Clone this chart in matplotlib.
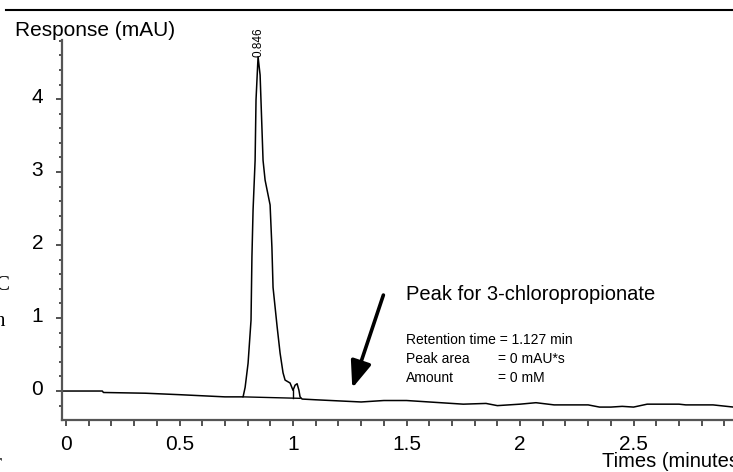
import numpy as np
import matplotlib.pyplot as plt
from matplotlib.lines import Line2D
from matplotlib.ticker import MultipleLocator
from matplotlib.transforms import ScaledTranslation

plt.rcParams['font.family'] = ['Liberation Sans', 'DejaVu Sans']

# chromatogram trace (minutes, mAU)
time = [-0.018, 0.16, 0.165, 0.35, 0.5, 0.7, 0.78,
        0.789, 0.802, 0.815, 0.819, 0.824, 0.833, 0.837, 0.846,
        0.855, 0.868, 0.877, 0.899, 0.907, 0.912, 0.930, 0.943, 0.956,
        0.965, 0.987, 1.0, 1.009, 1.018, 1.026, 1.031, 1.040,
        1.1, 1.3, 1.4, 1.5, 1.6, 1.75, 1.85, 1.9, 2.0, 2.07, 2.15,
        2.3, 2.35, 2.4, 2.45, 2.5, 2.56, 2.7, 2.73, 2.85, 2.94]
response = [0.0, 0.0, -0.02, -0.03, -0.05, -0.08, -0.08,
            0.05, 0.38, 0.97, 1.84, 2.48, 3.16, 3.99, 4.58,
            4.33, 3.16, 2.89, 2.55, 1.97, 1.42, 0.88, 0.52, 0.25,
            0.15, 0.11, 0.01, 0.08, 0.10, 0.01, -0.08, -0.11,
            -0.12, -0.15, -0.13, -0.13, -0.15, -0.18, -0.17, -0.2, -0.18, -0.16, -0.19,
            -0.19, -0.22, -0.22, -0.21, -0.22, -0.18, -0.18, -0.19, -0.19, -0.22]

# integration baseline under the main peak and the drop line
base_t = [0.78, 1.031]
base_r = [-0.08, -0.10]
drop_t = [1.0, 1.0]
drop_r = [0.01, -0.10]

peak_rt = 0.846
peak_top = 4.58

x_ticks = [0, 0.5, 1, 1.5, 2, 2.5]
x_labels = ["0", "0.5", "1", "1.5", "2", "2.5"]
y_ticks = [0, 1, 2, 3, 4]

fig = plt.figure(figsize=(7.33, 4.72), dpi=100)
ax = fig.add_axes([62 / 733, 1 - 420 / 472, 1 - 62 / 733, (420 - 40) / 472])

ax.plot(time, response, color="black", lw=1.1)
ax.plot(base_t, base_r, color="black", lw=1.0)
ax.plot(drop_t, drop_r, color="black", lw=1.0)

ax.set_xlim(-0.0176, 2.938)
ax.set_ylim(-0.397, 4.81)

for side in ["top", "right"]:
    ax.spines[side].set_visible(False)
for side in ["left", "bottom"]:
    ax.spines[side].set_color("#555555")
    ax.spines[side].set_linewidth(1.6)

ax.set_xticks(x_ticks)
ax.set_xticklabels(x_labels)
ax.set_yticks(y_ticks)
ax.xaxis.set_minor_locator(MultipleLocator(0.1))
ax.yaxis.set_minor_locator(MultipleLocator(0.2))
ax.tick_params(axis="x", which="both", direction="out", length=4, width=1.2,
               color="#333333", labelsize=15, pad=7)
ax.tick_params(axis="y", which="major", direction="out", length=4.5, width=1.2,
               color="#333333", labelsize=15, pad=9)
ax.tick_params(axis="y", which="minor", direction="out", length=2, width=1.2,
               color="#333333")

# y tick labels sit a little above their ticks in the original
shift = ScaledTranslation(0, 4 / 100, fig.dpi_scale_trans)
for lbl in ax.get_yticklabels():
    lbl.set_transform(lbl.get_transform() + shift)

# peak label
ax.text(peak_rt, peak_top, "0.846", rotation=90, ha="center", va="bottom",
        fontsize=8.5)

# annotation
ax.annotate("", xy=(1.261, 0.04), xytext=(1.398, 1.315),
            arrowprops=dict(arrowstyle="-|>,head_length=0.9,head_width=0.35",
                            color="black", lw=2.6, mutation_scale=18,
                            shrinkA=0, shrinkB=0))
ax.text(1.499, 1.247, "Peak for 3-chloropropionate", fontsize=14.5,
        va="baseline", ha="left")
ax.text(1.499, 0.70, "Retention time = 1.127 min", fontsize=10, va="center")
ax.text(1.499, 0.44, "Peak area", fontsize=10, va="center")
ax.text(1.905, 0.44, "= 0 mAU*s", fontsize=10, va="center")
ax.text(1.499, 0.18, "Amount", fontsize=10, va="center")
ax.text(1.905, 0.18, "= 0 mM", fontsize=10, va="center")

# axis titles
fig.text(15 / 733, 1 - 30 / 472, "Response (mAU)", fontsize=15, va="center",
         ha="left")
fig.text(602 / 733, 5 / 472, "Times (minutes)", fontsize=14.5, va="baseline",
         ha="left")

# page rule and clipped characters from the surrounding document
fig.add_artist(Line2D([6 / 733, 1], [1 - 10 / 472, 1 - 10 / 472],
                      color="black", lw=1.5))
for ch, yy in [("C", 285), ("n", 322), ("r", 463)]:
    fig.text(-5 / 733, 1 - yy / 472, ch, fontsize=15, family="Liberation Serif",
             va="center", ha="left")

fig.savefig("out.png", dpi=100)
